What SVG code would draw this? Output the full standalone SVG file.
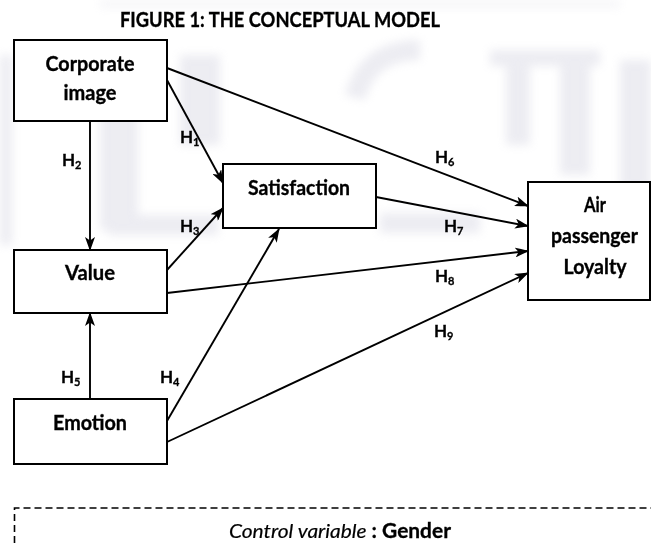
<svg xmlns="http://www.w3.org/2000/svg" width="651" height="543" viewBox="0 0 651 543">
  <style>
    .box { fill: #ffffff; stroke: #000000; stroke-width: 2; }
    .lbl { font-family: Lato, "Open Sans", "Liberation Sans", sans-serif; font-weight: bold; font-size: 21px; fill: #000000; stroke: #000000; stroke-width: 0.35; text-anchor: middle; }
    .hyp { font-family: Lato, "Open Sans", "Liberation Sans", sans-serif; font-weight: bold; font-size: 17px; fill: #000000; stroke: #000000; stroke-width: 0.3; }
    .sub { font-size: 11px; }
    .edge { fill: none; stroke: #000000; stroke-width: 1.9; marker-end: url(#arrow); }
    .wm { fill: #d6d6e2; }
  </style>
  <defs>
    <marker id="arrow" viewBox="0 0 14 10" refX="13" refY="5" markerWidth="14" markerHeight="10" markerUnits="userSpaceOnUse" orient="auto">
      <path d="M0,0 L14,5 L0,10 L3.5,5 z" fill="#000000"/>
    </marker>
    <filter id="soft" x="-20%" y="-20%" width="140%" height="140%">
      <feGaussianBlur stdDeviation="5"/>
    </filter>
  </defs>

  <rect width="651" height="543" fill="#ffffff"/>

  <!-- faint background watermark -->
  <g id="watermark" filter="url(#soft)" opacity="0.45">
    <rect class="wm" x="0" y="55" width="12" height="190"/>
    <rect class="wm" x="100" y="45" width="38" height="185"/>
    <rect class="wm" x="108" y="215" width="110" height="20"/>
    <rect class="wm" x="180" y="55" width="40" height="90"/>
    <path class="wm" d="M345,95 Q360,40 420,40 L420,60 Q375,60 365,100 z"/>
    <rect class="wm" x="380" y="213" width="100" height="20"/>
    <rect class="wm" x="490" y="50" width="110" height="16"/>
    <rect class="wm" x="506" y="50" width="24" height="95"/>
    <rect class="wm" x="560" y="55" width="30" height="120"/>
    <rect class="wm" x="620" y="60" width="31" height="130"/>
    <rect class="wm" x="100" y="0" width="520" height="8" opacity="0.5"/>
  </g>

  <text class="lbl" x="280" y="27" font-size="20" textLength="320" lengthAdjust="spacingAndGlyphs">FIGURE 1: THE CONCEPTUAL MODEL</text>

  <!-- connectors -->
  <g id="connectors">
    <line class="edge" x1="167" y1="80" x2="223" y2="183"/>
    <line class="edge" x1="167" y1="68" x2="528" y2="206"/>
    <line class="edge" x1="90" y1="121" x2="90" y2="250"/>
    <line class="edge" x1="167" y1="270" x2="223" y2="208"/>
    <line class="edge" x1="376" y1="197" x2="528" y2="226"/>
    <line class="edge" x1="167" y1="293" x2="528" y2="251"/>
    <line class="edge" x1="167" y1="421" x2="279" y2="229"/>
    <line class="edge" x1="167" y1="442" x2="528" y2="273"/>
    <line class="edge" x1="90" y1="399" x2="90" y2="313"/>

    <text class="hyp" x="180" y="143">H<tspan class="sub" dy="3">1</tspan></text>
    <text class="hyp" x="62" y="166">H<tspan class="sub" dy="3">2</tspan></text>
    <text class="hyp" x="180" y="232">H<tspan class="sub" dy="3">3</tspan></text>
    <text class="hyp" x="160" y="383">H<tspan class="sub" dy="3">4</tspan></text>
    <text class="hyp" x="61" y="383">H<tspan class="sub" dy="3">5</tspan></text>
    <text class="hyp" x="435" y="163">H<tspan class="sub" dy="3">6</tspan></text>
    <text class="hyp" x="444" y="232">H<tspan class="sub" dy="3">7</tspan></text>
    <text class="hyp" x="435" y="282">H<tspan class="sub" dy="3">8</tspan></text>
    <text class="hyp" x="434" y="337">H<tspan class="sub" dy="3">9</tspan></text>
  </g>

  <!-- nodes -->
  <g id="corporate-image">
    <rect class="box" x="14" y="40" width="153" height="81"/>
    <text class="lbl" x="90" y="71" textLength="89" lengthAdjust="spacingAndGlyphs">Corporate</text>
    <text class="lbl" x="90" y="100" textLength="53" lengthAdjust="spacingAndGlyphs">image</text>
  </g>
  <g id="value">
    <rect class="box" x="14" y="250" width="153" height="63"/>
    <text class="lbl" x="90" y="280" textLength="50" lengthAdjust="spacingAndGlyphs">Value</text>
  </g>
  <g id="emotion">
    <rect class="box" x="14" y="399" width="153" height="65"/>
    <text class="lbl" x="90" y="430" textLength="74" lengthAdjust="spacingAndGlyphs">Emotion</text>
  </g>
  <g id="satisfaction">
    <rect class="box" x="223" y="164" width="153" height="64"/>
    <text class="lbl" x="299" y="195" textLength="102" lengthAdjust="spacingAndGlyphs">Satisfaction</text>
  </g>
  <g id="loyalty">
    <rect class="box" x="528" y="182" width="122" height="118"/>
    <text class="lbl" x="595" y="212" textLength="22" lengthAdjust="spacingAndGlyphs">Air</text>
    <text class="lbl" x="594.5" y="243" textLength="87" lengthAdjust="spacingAndGlyphs">passenger</text>
    <text class="lbl" x="595" y="274" textLength="63" lengthAdjust="spacingAndGlyphs">Loyalty</text>
  </g>

  <!-- control variable frame -->
  <g id="control">
    <path d="M14.5,543 V508 H651" fill="none" stroke="#000000" stroke-width="1.6" stroke-dasharray="7 4"/>
    <text x="229" y="538" font-family="Lato, 'Open Sans', 'Liberation Sans', sans-serif" font-size="20" fill="#000000" textLength="222" lengthAdjust="spacingAndGlyphs"><tspan font-style="italic" stroke="#000000" stroke-width="0.2">Control variable</tspan><tspan font-weight="bold" stroke="#000000" stroke-width="0.3"> : Gender</tspan></text>
  </g>
</svg>
